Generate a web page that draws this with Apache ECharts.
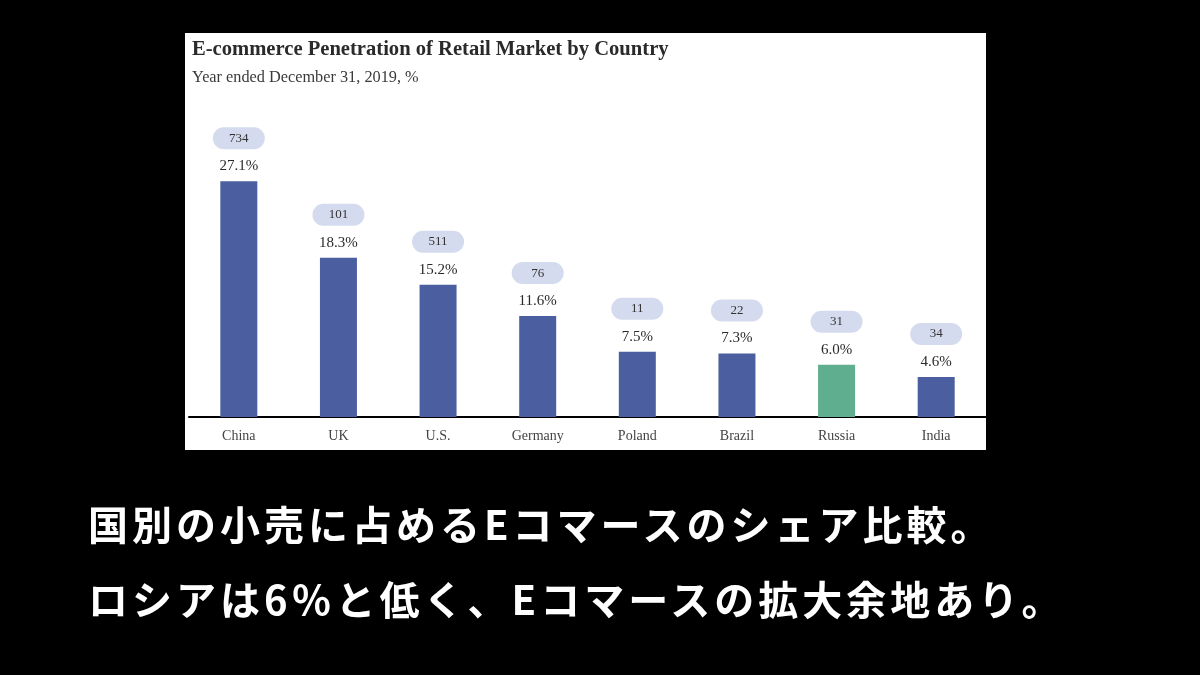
<!DOCTYPE html>
<html><head><meta charset="utf-8">
<script src="https://cdn.jsdelivr.net/npm/echarts@6/dist/echarts.min.js"></script>
<style>
html,body{margin:0;padding:0;background:#000;}
#wrap{position:relative;width:1200px;height:675px;}
#c{width:1200px;height:675px;}
.cap{position:absolute;left:88px;color:#fff;font-family:"Noto Sans CJK JP",sans-serif;font-weight:bold;font-size:40px;letter-spacing:4px;white-space:nowrap;line-height:48px;}
</style>
</head><body><div id="wrap"><div id="c"></div>
<div class="cap" id="cap1" style="top:499px"></div>
<div class="cap" id="cap2" style="top:574px"></div>
</div>
<script>
const categories = ['China','UK','U.S.','Germany','Poland','Brazil','Russia','India'];
const penetration = [27.1, 18.3, 15.2, 11.6, 7.5, 7.3, 6.0, 4.6];
const pillValues = ['734','101','511','76','11','22','31','34'];
const highlightCategory = 'Russia';
const titleText = 'E-commerce Penetration of Retail Market by Country';
const subtitleText = 'Year ended December 31, 2019, %';
const captionLine1 = '国別の小売に占めるEコマースのシェア比較。';
const captionLine2 = 'ロシアは6％と低く、Eコマースの拡大余地あり。';

document.getElementById('cap1').textContent = captionLine1;
document.getElementById('cap2').textContent = captionLine2;

const serif = '"Liberation Serif","DejaVu Serif",serif';
const chart = echarts.init(document.getElementById('c'));
chart.setOption({
  backgroundColor: '#000',
  animation: false,
  graphic: [
    {type:'rect', shape:{x:185,y:33,width:801,height:417}, style:{fill:'#fff'}, z:-10},
    {type:'text', left:192, top:39, style:{text:titleText, font:'bold 20.6px '+serif, fill:'#2a2a2a'}},
    {type:'text', left:192, top:70, style:{text:subtitleText, font:'16.3px '+serif, fill:'#3a3a3a'}}
  ],
  grid: {left:189, right:214, top:156, bottom:258, containLabel:false},
  xAxis: {
    type:'category', data:categories,
    axisLine:{show:true, lineStyle:{color:'#000', width:2}},
    axisTick:{show:false},
    axisLabel:{fontFamily:serif, fontSize:14, color:'#444', margin:12}
  },
  yAxis: {type:'value', min:0, max:30, show:false, splitLine:{show:false}},
  series: [{
    type:'bar', barWidth:37,
    data: penetration.map((v,i)=>({value:v, itemStyle:{color: categories[i]===highlightCategory ? '#5fae8f' : '#4b5fa0'}})),
    label: {
      show:true, position:'top', distance:6,
      formatter: p => '{pill|'+pillValues[p.dataIndex]+'}\n{gap|}\n{pct|'+p.value.toFixed(1)+'%}',
      rich: {
        pill:{backgroundColor:'#d5dbee', borderRadius:11, width:52, height:22, align:'center', fontFamily:serif, fontSize:13, color:'#333'},
        gap:{height:8},
        pct:{fontFamily:serif, fontSize:15, color:'#2a2a2a', height:18}
      }
    }
  }]
});
</script></body></html>
